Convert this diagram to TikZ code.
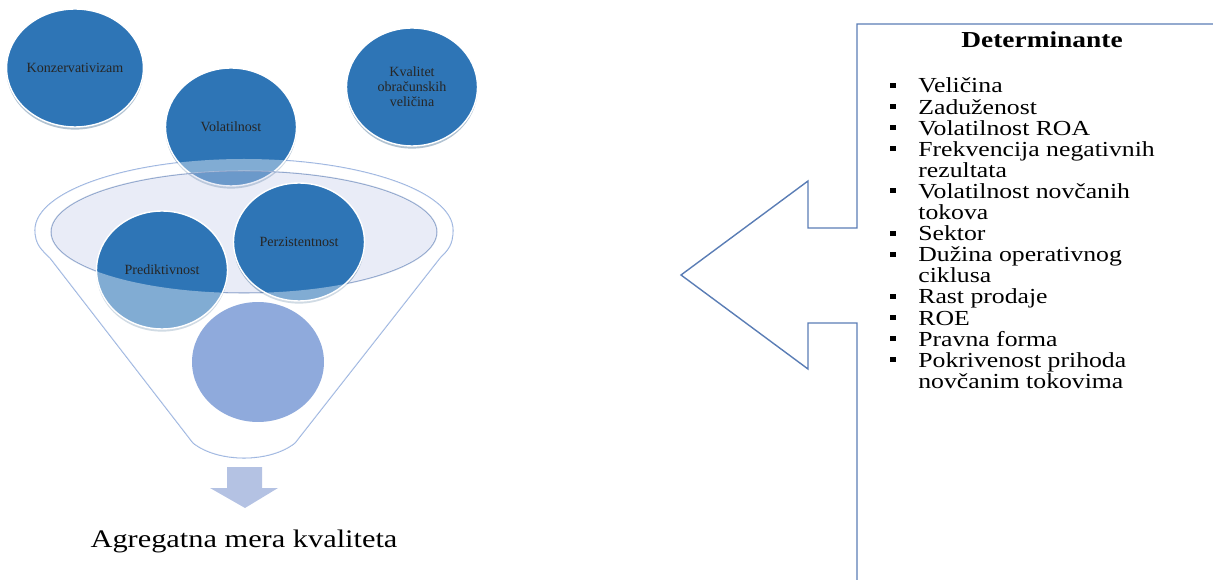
\documentclass[tikz,border=0pt]{standalone}
\usepackage{fontspec}
\setmainfont{Liberation Serif}[FakeStretch=1.2]
\newfontfamily\bubblefont{Liberation Serif}
\usetikzlibrary{shapes.geometric,shadows}
\definecolor{bubbleblue}{HTML}{2E75B6}
\definecolor{palebubble}{HTML}{8FAADC}
\definecolor{funnelline}{HTML}{8EAADB}
\definecolor{funnelfill}{HTML}{C8D0EA}
\definecolor{arrowline}{HTML}{5A7DB5}
\definecolor{dropfill}{HTML}{B4C2E3}

\begin{document}
\begin{tikzpicture}[x=0.02cm,y=-0.02cm,
	bubble/.style={ellipse, fill=bubbleblue, draw=white, line width=0.8pt, inner sep=0pt,
		minimum width=2.62cm, minimum height=2.36cm, align=center, text=black!85,
		font=\bubblefont\fontsize{8}{8.5}\selectfont,
		drop shadow={shadow xshift=0pt, shadow yshift=-1.5pt, opacity=0.35, fill=bubbleblue!70!black}},
	item/.style={anchor=base west, inner sep=0pt, font=\fontsize{12.2}{14}\selectfont}]

	\useasboundingbox (0,0) rectangle (1213,580);

	% funnel outline
	\draw[funnelline, line width=0.6pt] (35,230) .. controls (35,191) and (129,159) .. (244,159)
		.. controls (359,159) and (453,191) .. (453,230)
		.. controls (453,245) and (448,250) .. (440,258) -- (295,443)
		.. controls (270,463) and (218,463) .. (193,443) -- (50,258)
		.. controls (42,250) and (35,245) .. (35,230);

	\node[bubble] (konz) at (75,68) {Konzervativizam};
	\node[bubble] (kval) at (412,87) {Kvalitet\\obračunskih\\veličina};
	\node[bubble] (vol) at (231,127) {Volatilnost};

	\filldraw[fill=funnelfill, fill opacity=0.4, draw=funnelline!90!black, line width=0.6pt] (244,232) ellipse [x radius=193, y radius=61];

	\node[bubble] (pred) at (162,270) {Prediktivnost};
	\node[bubble] (perz) at (299,242) {Perzistentnost};

	% funnel body over the bubbles
	\fill[white, fill opacity=0.4, even odd rule] (35,230) .. controls (35,191) and (129,159) .. (244,159)
		.. controls (359,159) and (453,191) .. (453,230)
		.. controls (453,245) and (448,250) .. (440,258) -- (295,443)
		.. controls (270,463) and (218,463) .. (193,443) -- (50,258)
		.. controls (42,250) and (35,245) .. (35,230) -- cycle
		(244,232) ellipse [x radius=193, y radius=61];

	\node[ellipse, fill=palebubble, inner sep=0pt, minimum width=2.64cm, minimum height=2.4cm] (out) at (258,362) {};

	\fill[dropfill] (227,467) -- (262,467) -- (262,488) -- (278,488) -- (245,508) -- (210,488) -- (227,488) -- cycle;
	\node[anchor=base, inner sep=0pt, font=\fontsize{14.4}{16}\selectfont] (agg) at (244,547) {Agregatna mera kvaliteta};

	% big arrow with the list
	\draw[arrowline, line width=0.8pt] (1213,24) -- (857,24) -- (857,228) -- (808,228) -- (808,181)
		-- (681,275) -- (808,369) -- (808,323) -- (857,323) -- (857,580);

	\node[anchor=base, inner sep=0pt, font=\bfseries\fontsize{13}{15}\selectfont] (det) at (1042,48) {Determinante};

	\foreach \txt/\bul [count=\i] in {Veličina/1, Zaduženost/1, Volatilnost ROA/1,
		Frekvencija negativnih/1, rezultata/0, Volatilnost novčanih/1, tokova/0, Sektor/1,
		Dužina operativnog/1, ciklusa/0, Rast prodaje/1, ROE/1, Pravna forma/1,
		Pokrivenost prihoda/1, novčanim tokovima/0}{
		\node[item] (item\i) at (918,{93+21.1*(\i-1)}) {\txt};
		\ifnum\bul=1
			\fill (890,{88+21.1*(\i-1)}) rectangle +(6,-5);
		\fi
	}

\end{tikzpicture}
\end{document}
